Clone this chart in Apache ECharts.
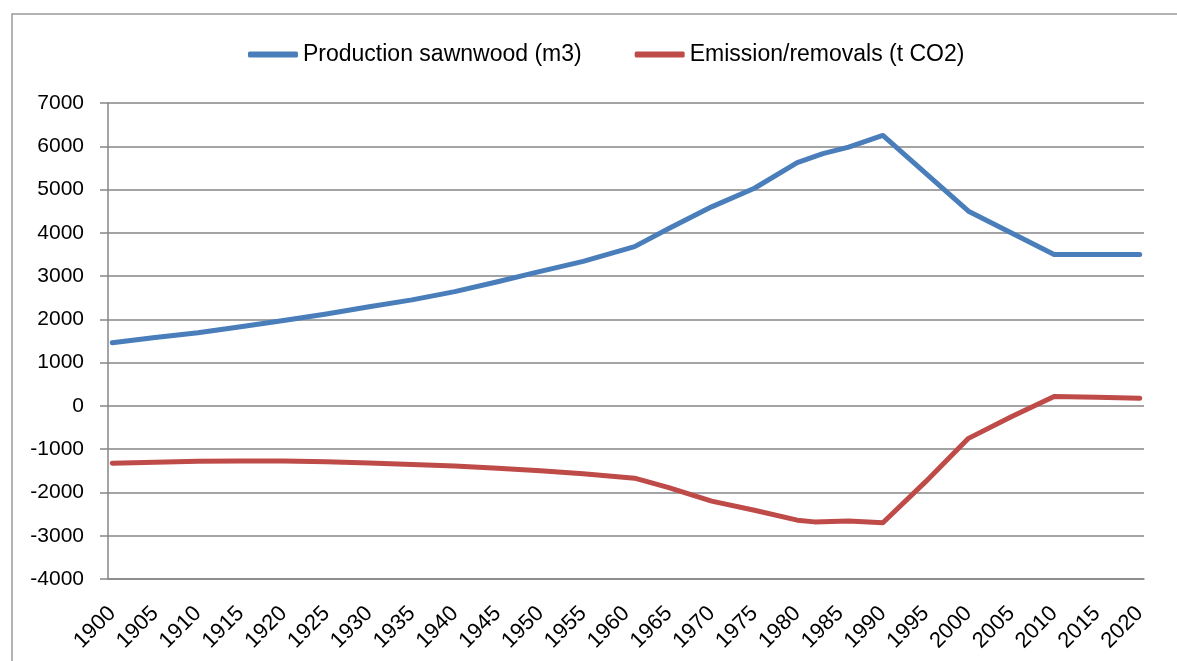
<!DOCTYPE html>
<html>
<head>
<meta charset="utf-8">
<title>Sawnwood production and emissions</title>
<script src="https://cdn.jsdelivr.net/npm/echarts@6/dist/echarts.min.js"></script>
<style>
  html, body { margin: 0; padding: 0; background: #fff; }
  #main { width: 1177px; height: 661px; }
</style>
</head>
<body>
<div id="main"></div>
<script>
// x axis: one category per year, labels shown every 5 years
var firstYear = 1900;
var lastYear = 2020;
var years = [];
for (var y = firstYear; y <= lastYear; y++) {
  years.push(String(y));
}

// y axis ticks
var yTicks = [-4000, -3000, -2000, -1000, 0, 1000, 2000, 3000, 4000, 5000, 6000, 7000];

// Production sawnwood (m3)
var prodYears = ['1900', '1905', '1910', '1915', '1920', '1925', '1930', '1935', '1940', '1945',
  '1950', '1955', '1961', '1965', '1970', '1975', '1980', '1983', '1986', '1990', '2000', '2010', '2020'];
var prodValues = [1460, 1580, 1690, 1830, 1975, 2125, 2290, 2450, 2640, 2870,
  3110, 3340, 3680, 4100, 4600, 5030, 5620, 5830, 5980, 6250, 4500, 3500, 3500];

// Emission/removals (t CO2)
var emisYears = ['1900', '1905', '1910', '1915', '1920', '1925', '1930', '1935', '1940', '1945',
  '1950', '1955', '1961', '1965', '1970', '1975', '1980', '1982', '1986', '1990', '1995', '2000',
  '2005', '2010', '2015', '2020'];
var emisValues = [-1325, -1300, -1280, -1272, -1272, -1290, -1320, -1355, -1390, -1440,
  -1500, -1570, -1670, -1890, -2200, -2410, -2640, -2680, -2660, -2700, -1750, -750,
  -250, 220, 200, 175];

function pairs(xs, vs) {
  var out = [];
  for (var i = 0; i < xs.length; i++) out.push([xs[i], vs[i]]);
  return out;
}

var gridColor = '#868686';
var font = '"Liberation Sans", Arial, sans-serif';

var chart = echarts.init(document.getElementById('main'));
chart.setOption({
  animation: false,
  backgroundColor: '#fff',
  textStyle: { fontFamily: font },
  graphic: [{
    type: 'rect',
    shape: { x: 12, y: 14, width: 1300, height: 800 },
    style: { fill: 'none', stroke: '#999', lineWidth: 1.5 },
    silent: true
  }],
  legend: {
    left: 243,
    top: 38,
    itemWidth: 50,
    itemHeight: 6,
    itemGap: 53,
    icon: 'roundRect',
    textStyle: { fontSize: 23, color: '#000', fontFamily: font },
    data: ['Production sawnwood (m3)', 'Emission/removals (t CO2)']
  },
  grid: { left: 108, right: 33, top: 103, bottom: 82 },
  xAxis: {
    type: 'category',
    data: years,
    boundaryGap: true,
    axisLine: { onZero: false, lineStyle: { color: gridColor, width: 1.5 } },
    axisTick: { interval: 4, length: 7, lineStyle: { color: gridColor, width: 1.5 } },
    axisLabel: { interval: 4, rotate: 45, margin: 31, fontSize: 22, color: '#000', fontFamily: font },
    splitLine: { show: false }
  },
  yAxis: {
    type: 'value',
    min: yTicks[0],
    max: yTicks[yTicks.length - 1],
    interval: 1000,
    axisLine: { show: true, lineStyle: { color: gridColor, width: 1.5 } },
    axisTick: { show: true, length: 8, lineStyle: { color: gridColor, width: 1.5 } },
    axisLabel: {
      margin: 24,
      fontSize: 21,
      color: '#000',
      fontFamily: font,
      formatter: function (v) { return String(v); }
    },
    splitLine: { lineStyle: { color: gridColor, width: 1.5 } }
  },
  series: [
    {
      name: 'Production sawnwood (m3)',
      type: 'line',
      data: pairs(prodYears, prodValues),
      showSymbol: false,
      symbol: 'none',
      color: '#4a7ebb',
      lineStyle: { width: 5, color: '#4a7ebb', cap: 'round', join: 'round' }
    },
    {
      name: 'Emission/removals (t CO2)',
      type: 'line',
      data: pairs(emisYears, emisValues),
      showSymbol: false,
      symbol: 'none',
      color: '#be4b48',
      lineStyle: { width: 5, color: '#be4b48', cap: 'round', join: 'round' }
    }
  ]
});
</script>
</body>
</html>
